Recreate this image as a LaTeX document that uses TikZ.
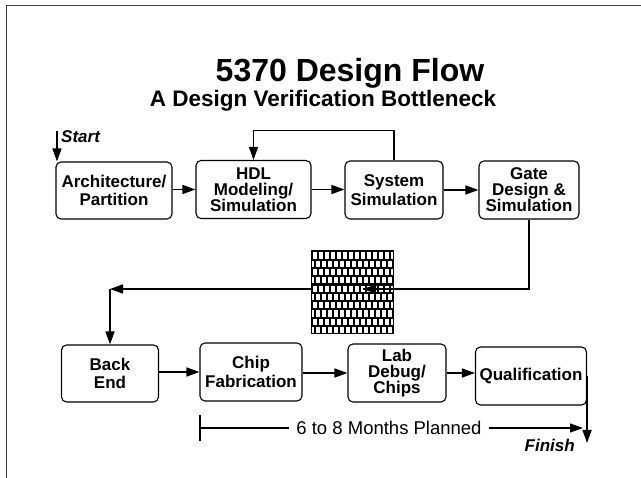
\documentclass[tikz,border=0pt]{standalone}
\usepackage{fontspec}
\setmainfont{Liberation Sans}
\usetikzlibrary{arrows.meta}
\tikzset{
  box/.style={draw=black, line width=1.1pt, rounded corners=5pt, align=center, inner sep=0pt,
    font=\fontsize{17}{18.5}\selectfont\bfseries},
  box3/.style={box, font=\fontsize{17}{16}\selectfont\bfseries},
  arr/.style={line width=1.5pt, -{Triangle[length=13pt,width=9pt]}},
  plain/.style={line width=1.5pt},
  framel/.style={line width=1pt, draw=black!75},
  hatchbox/.style={minimum width=81pt, minimum height=82pt, inner sep=0pt},
}
\begin{document}
\begin{tikzpicture}[x=1pt, y=-1pt]
\useasboundingbox (0,0) rectangle (641,478);
% frame
\coordinate (frTR) at (641,6);
\coordinate (frTL) at (6,6);
\coordinate (frBL) at (6,478);
\draw[framel] (frTR) -- (frTL) -- (frBL);
% titles
\node[anchor=base, font=\fontsize{32}{32}\selectfont\bfseries] (t1) at (350,82) {5370 Design Flow};
\node[anchor=base, font=\fontsize{22.5}{22.5}\selectfont\bfseries] (t2) at (323,107) {A Design Verification Bottleneck};
% row 1
\node[box, minimum width=116pt, minimum height=57pt] (arch) at (114,190.5) {Architecture/\\Partition};
\node[box3, minimum width=115pt, minimum height=58pt] (hdl) at (253.5,189.5) {HDL\\Modeling/\\Simulation};
\node[box, minimum width=98pt, minimum height=58pt] (sys) at (394,190) {System\\Simulation};
\node[box3, minimum width=100pt, minimum height=58pt] (gate) at (529,190) {Gate\\Design \&\\Simulation};
% row 2
\node[box, minimum width=97pt, minimum height=57pt] (be) at (110,373.5) {Back\\End};
\node[box, minimum width=102pt, minimum height=58pt] (chip) at (251,372) {Chip\\Fabrication};
\node[box3, minimum width=98pt, minimum height=58pt] (lab) at (397,373) {Lab\\Debug/\\Chips};
\node[box, minimum width=111pt, minimum height=58pt] (qual) at (531,376) {Qualification};
% start
\node[anchor=base west, inner sep=0pt, font=\fontsize{17}{17}\selectfont\bfseries\itshape] (start) at (61,143) {Start};
\coordinate (st) at (57,131);
\draw[arr] (st) -- (st |- arch.north);
% row 1 arrows
\draw[arr] (arch.east |- hdl.west) -- (hdl.west);
\draw[arr] (hdl.east) -- (hdl.east -| sys.west);
\draw[arr] (sys.east) -- (sys.east -| gate.west);
% feedback loop
\draw[arr] (sys.north) -- ++(0,-30) -| (hdl.north);
% bottleneck box
\node[hatchbox] (bn) at (352.5,292) {};
\begin{scope}
\clip (bn.south west) rectangle (bn.north east);
\fill[black] (bn.south west) rectangle (bn.north east);
\foreach \r in {0,...,10} {
  \foreach \c in {-1,...,14} {
    \pgfmathsetmacro\xx{312+1.2+\c*6+mod(\r,2)*3}
    \pgfmathsetmacro\yy{251+1.4+\r*8.3}
    \fill[white] (\xx,\yy) rectangle ++(3.6,6.2);
  }
}
\end{scope}
\draw[line width=1pt] (bn.south west) rectangle (bn.north east);
% gate down to back end
\coordinate (gc) at (529,289);
\coordinate (bt) at (363,289);
\coordinate (bc) at (110,289);
\draw[plain] (gate.south) -- (gc) -- (bt);
\draw[arr] (gc) -- (bt);
\draw[arr] (bn.west |- bc) -- (bc);
\draw[arr] (bc) -- (be.north);
% row 2 arrows
\draw[arr] (be.east |- chip.west) -- (chip.west);
\draw[arr] (chip.east |- lab.west) -- (lab.west);
\draw[arr] (lab.east) -- (lab.east -| qual.west);
% months line
\node[inner xsep=7pt, inner ysep=0pt, font=\fontsize{18.5}{18.5}\selectfont] (mo) at (389,428) {6 to 8 Months Planned};
\coordinate (tkT) at (200,415);
\coordinate (tkB) at (200,441);
\coordinate (tkM) at (200,428);
\coordinate (fe) at (583,428);
\draw[line width=1.2pt] (tkT) -- (tkB);
\draw[line width=1.2pt] (tkM) -- (mo.west);
\draw[arr, line width=1.2pt] (mo.east) -- (fe);
% finish
\coordinate (fin) at (587,443);
\draw[arr] (qual.east) -- (qual.east |- fin);
\node[anchor=base east, inner sep=0pt, font=\fontsize{17}{17}\selectfont\bfseries\itshape] (finish) at (575,452) {Finish};
\end{tikzpicture}
\end{document}
